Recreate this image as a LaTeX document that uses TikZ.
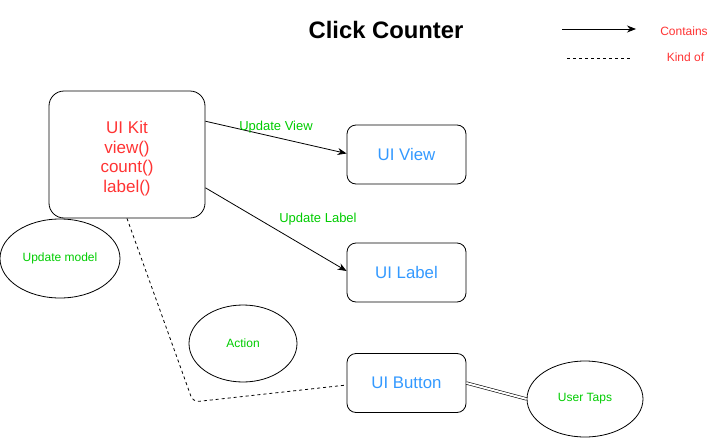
\documentclass[tikz,border=0pt]{standalone}
\usepackage{fontspec}
\setmainfont{Liberation Sans}
\usetikzlibrary{positioning,arrows.meta,shapes.geometric}
\definecolor{kitred}{HTML}{FF3333}
\definecolor{uiblue}{HTML}{3399FF}
\definecolor{ovgreen}{HTML}{00CC00}

\begin{document}
\begin{tikzpicture}[x=1pt, y=-1pt, line width=0.8pt,
  box/.style={draw, rounded corners=9pt, minimum width=119pt, minimum height=59pt, text=uiblue, font=\fontsize{16.8}{20}\selectfont},
  oval/.style={draw, ellipse, inner sep=0pt, text=ovgreen, font=\fontsize{12}{14}\selectfont},
  lbl/.style={text=ovgreen, font=\fontsize{13}{15}\selectfont, inner sep=1pt},
  keytext/.style={text=kitred, font=\fontsize{12}{14}\selectfont},
  contains/.style={-{Stealth[length=9pt,width=7pt]}},
  kind/.style={dash pattern=on 3pt off 3pt}]
\useasboundingbox (0,0) rectangle (712,439);
% title and key
\node[font=\bfseries\fontsize{23.8}{28}\selectfont] (title) at (386,30) {Click Counter};
\coordinate (k1) at (562,29);
\coordinate (k2) at (636,29);
\coordinate (k3) at (567,58);
\coordinate (k4) at (631,58);
\draw[contains] (k1) -- (k2);
\draw[kind] (k3) -- (k4);
\node[keytext] (ktc) at (684,31) {Contains};
\node[keytext] (ktk) at (685.5,57) {Kind of};
% boxes
\node[draw, rounded corners=15pt, minimum width=156pt, minimum height=127pt] (kit) at (127,154.5) {};
\node[align=center, text=kitred, font=\fontsize{17}{19.7}\selectfont] (kitlines) at (127,158.5) {UI Kit\\view()\\count()\\label()};
\node[box] (view) at (406.5,154.5) {UI View};
\node[box] (label) at (406.5,272.5) {UI Label};
\node[box] (button) at (406.5,383) {UI Button};
% ovals
\node[oval, minimum width=120pt, minimum height=79pt] (model) at (60,258.5) {Update model};
\node[oval, minimum width=108pt, minimum height=77pt] (action) at (243,343.5) {Action};
\node[oval, minimum width=116pt, minimum height=76pt] (taps) at (585,399) {User Taps};
% links
\draw[contains] (kit.23) -- node[lbl, pos=0.5, anchor=south, yshift=3pt] {Update View} ([yshift=1pt]view.west);
\draw[contains] (kit.-23) -- node[lbl, pos=0.4, anchor=west, xshift=16pt, yshift=2pt] {Update Label} ([yshift=1.5pt]label.west);
\coordinate (bend) at (193,402);
\draw[kind, rounded corners=6pt] (kit.south) -- (bend) -- ([yshift=-2pt]button.west);
\draw[double, double distance=2pt, line width=0.6pt] (button.east) -- (taps.west);
\end{tikzpicture}
\end{document}
